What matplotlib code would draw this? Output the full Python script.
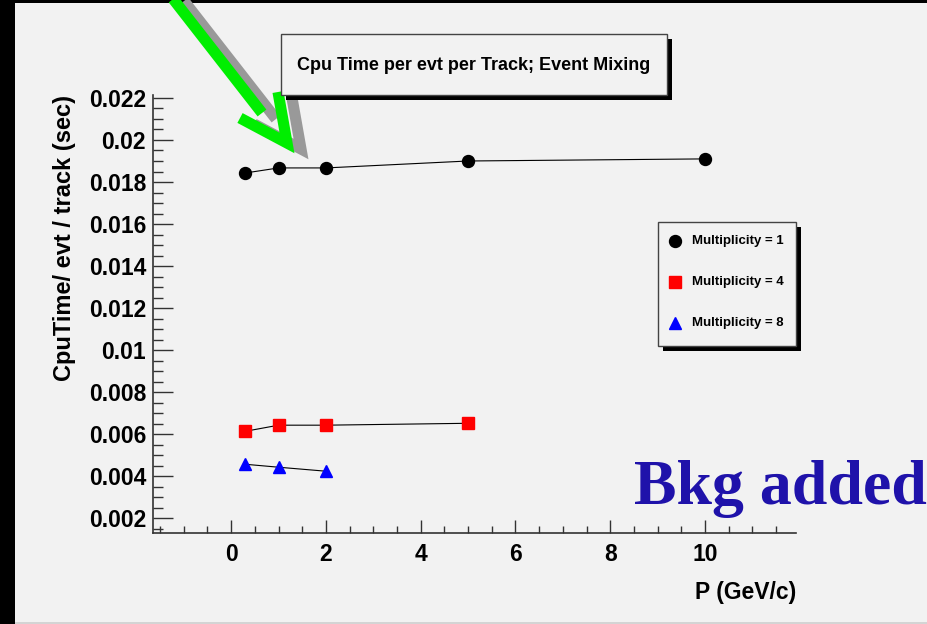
import matplotlib
matplotlib.use('Agg')
import matplotlib.pyplot as plt
from matplotlib.patches import Rectangle
from matplotlib.ticker import MultipleLocator, FuncFormatter

# data
p_m1 = [0.3, 1, 2, 5, 10]
t_m1 = [0.01843, 0.01867, 0.01867, 0.01900, 0.01910]
p_m4 = [0.3, 1, 2, 5]
t_m4 = [0.00614, 0.00643, 0.00643, 0.00652]
p_m8 = [0.3, 1, 2]
t_m8 = [0.00457, 0.00443, 0.00424]

series = [
    ('Multiplicity = 1', p_m1, t_m1, 'o', 'black', 8.6),
    ('Multiplicity = 4', p_m4, t_m4, 's', 'red', 9.0),
    ('Multiplicity = 8', p_m8, t_m8, '^', 'blue', 8.6),
]

W, H = 927, 624
plt.rcParams['font.family'] = ['Liberation Sans', 'DejaVu Sans']
plt.rcParams['font.weight'] = 'bold'

fig = plt.figure(figsize=(W / 100, H / 100), dpi=100, facecolor='black')
# light gray canvas inside the black border (left and top)
fig.patches.append(Rectangle((15 / W, 0), 1 - 15 / W, 1 - 3 / H,
                             transform=fig.transFigure, facecolor='#f2f2f2',
                             edgecolor='none', zorder=-2))
fig.patches.append(Rectangle((15 / W, 0), 1 - 15 / W, 2 / H,
                             transform=fig.transFigure, facecolor='#d4d4d4',
                             edgecolor='none', zorder=-1))

ax = fig.add_axes([153 / W, (H - 533) / H, (796 - 153) / W, (533 - 95) / H])
ax.set_facecolor('none')
for lab, x, y, m, c, ms in series:
    ax.plot(x, y, color='black', lw=0.8, zorder=2)
    ax.plot(x, y, ls='none', marker=m, color=c, ms=ms, mec=c, zorder=3)

ax.set_xlim(-1.65, 11.92)
ax.set_ylim(0.0013, 0.02214)
ax.spines['top'].set_visible(False)
ax.spines['right'].set_visible(False)
for s in ('left', 'bottom'):
    ax.spines[s].set_color('#333333')
    ax.spines[s].set_linewidth(1.2)
ax.xaxis.set_major_locator(MultipleLocator(2))
ax.xaxis.set_minor_locator(MultipleLocator(0.5))
ax.yaxis.set_major_locator(MultipleLocator(0.002))
ax.yaxis.set_minor_locator(MultipleLocator(0.0005))
ax.yaxis.set_major_formatter(FuncFormatter(lambda v, p: f'{v:g}'))
ax.tick_params(axis='y', which='major', direction='in', length=14.5, width=1, color='#333333',
               labelsize=16.5, pad=5)
ax.tick_params(axis='y', which='minor', direction='in', length=7.2, width=1, color='#333333')
ax.tick_params(axis='x', which='major', direction='in', length=9.5, width=1, color='#333333',
               labelsize=16.5, pad=7)
ax.tick_params(axis='x', which='minor', direction='in', length=5, width=1, color='#333333')
for t in ax.get_xticklabels() + ax.get_yticklabels():
    t.set_fontweight('bold')

fig.text(65 / W, 1 - 95 / H, 'CpuTime/ evt / track (sec)', rotation=90, ha='center', va='top',
         fontsize=17, fontweight='bold')
fig.text(796 / W, 1 - 592 / H, 'P (GeV/c)', ha='right', va='center', fontsize=16.5,
         fontweight='bold')

# overlay in pixel coordinates for arrow, boxes and annotation
ov = fig.add_axes([0, 0, 1, 1], zorder=5)
ov.set_xlim(0, W)
ov.set_ylim(H, 0)
ov.axis('off')
ov.patch.set_alpha(0)

shaft = ([170, 262], [-5, 113])
head = ([240, 287, 278], [118, 143, 92])
dx, dy = 14, 6
ov.plot([v + dx for v in shaft[0]], [v + dy for v in shaft[1]], color='#999999', lw=8,
        solid_capstyle='butt')
ov.plot([v + dx for v in head[0]], [v + dy for v in head[1]], color='#999999', lw=8,
        solid_joinstyle='miter', solid_capstyle='butt')
ov.plot(shaft[0], shaft[1], color='#00ee00', lw=8, solid_capstyle='butt')
ov.plot(head[0], head[1], color='#00ee00', lw=8, solid_joinstyle='miter', solid_capstyle='butt')

# title box
ov.add_patch(Rectangle((286, 39), 386, 61, facecolor='black', edgecolor='none', zorder=6))
ov.add_patch(Rectangle((281, 34), 386, 61, facecolor='#f2f2f2', edgecolor='#444444', lw=1,
                       zorder=7))
ov.text(474, 66, 'Cpu Time per evt per Track; Event Mixing', ha='center', va='center',
        fontsize=13, fontweight='bold', zorder=8)

# legend box
ov.add_patch(Rectangle((663, 227), 138, 124, facecolor='black', edgecolor='none', zorder=6))
ov.add_patch(Rectangle((658, 222), 138, 124, facecolor='#f2f2f2', edgecolor='#444444', lw=1,
                       zorder=7))
for i, (lab, x, y, m, c, ms) in enumerate(series):
    yy = 241 + 41 * i
    ov.plot([675], [yy], ls='none', marker=m, color=c, ms=ms, mec=c, zorder=8)
    ov.text(692, yy, lab, ha='left', va='center', fontsize=9.5, fontweight='bold', zorder=8)

ov.text(634, 504, 'Bkg added', ha='left', va='baseline', fontsize=46, fontweight='bold',
        family='Liberation Serif', color='#1f12aa', zorder=8)

fig.savefig('out.png', dpi=100, facecolor='black')
